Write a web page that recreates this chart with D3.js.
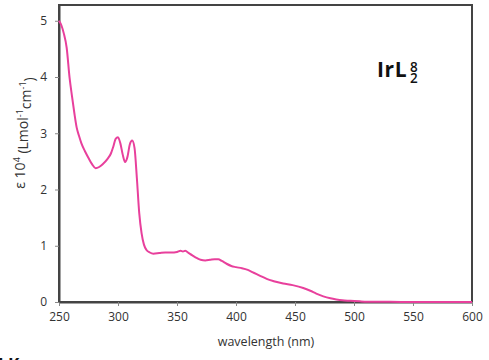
<!DOCTYPE html>
<html>
<head>
<meta charset="utf-8">
<script src="https://cdn.jsdelivr.net/npm/d3@7"></script>
<style>
  html, body { margin: 0; padding: 0; background: #fff; }
  svg { display: block; }
  text { font-family: "Open Sans", "DejaVu Sans", sans-serif; }
</style>
</head>
<body>
<svg id="chart" width="489" height="360"></svg>
<script>
// Absorption spectrum of IrL8_2: wavelength (nm) vs ε (10^4 L mol^-1 cm^-1)
const wavelength = [250, 252, 254, 256.5, 259, 261, 263, 265, 267, 269, 272, 275, 278, 281, 284, 287, 291, 294, 296, 298, 300, 302, 304, 306, 308, 310, 312, 314, 316, 318, 320, 322, 324, 327, 330, 335, 340, 345, 350, 353, 355, 357, 360, 363, 367, 370, 374, 378, 382, 385, 388, 392, 396, 400, 405, 410, 415, 420, 426, 432, 440, 448, 457, 463, 468, 474, 480, 485, 490, 497, 505, 511, 520, 540, 560, 580, 600];
const epsilon    = [5.00, 4.92, 4.78, 4.52, 3.98, 3.66, 3.36, 3.10, 2.95, 2.82, 2.68, 2.56, 2.45, 2.38, 2.40, 2.45, 2.54, 2.64, 2.76, 2.90, 2.93, 2.82, 2.62, 2.49, 2.58, 2.80, 2.87, 2.74, 2.20, 1.58, 1.22, 1.02, 0.93, 0.88, 0.86, 0.87, 0.88, 0.88, 0.89, 0.91, 0.90, 0.91, 0.87, 0.83, 0.78, 0.75, 0.74, 0.75, 0.76, 0.76, 0.73, 0.68, 0.64, 0.62, 0.60, 0.57, 0.52, 0.47, 0.41, 0.37, 0.33, 0.30, 0.25, 0.20, 0.15, 0.10, 0.065, 0.045, 0.03, 0.022, 0.012, 0.006, 0.003, 0.002, 0.002, 0.002, 0.002];

const xTicks = [250, 300, 350, 400, 450, 500, 550, 600];
const yTicks = [0, 1, 2, 3, 4, 5];

const svg = d3.select("#chart");
const margin = { left: 59, right: 17, top: 5, bottom: 58 };
const W = 489, H = 360;

const x = d3.scaleLinear().domain([250, 600]).range([margin.left, W - margin.right]);
const y = d3.scaleLinear().domain([0, 5.28]).range([H - margin.bottom, margin.top]);

// Plot frame
svg.append("rect")
  .attr("x", x(250)).attr("y", y(5.28))
  .attr("width", x(600) - x(250)).attr("height", y(0) - y(5.28))
  .attr("fill", "none").attr("stroke", "#444").attr("stroke-width", 2);

// Axes
const xAxis = d3.axisBottom(x).tickValues(xTicks).tickSize(4).tickSizeOuter(0).tickFormat(d3.format("d"));
const gx = svg.append("g").attr("transform", `translate(0,${y(0)})`).call(xAxis);
gx.select(".domain").attr("stroke", "#444").attr("stroke-width", 2);
gx.selectAll(".tick line").attr("stroke", "#888");
gx.selectAll(".tick text").attr("font-size", 12).attr("fill", "#333").attr("dy", "1.0em");

const yAxis = d3.axisLeft(y).tickValues(yTicks).tickSize(4).tickSizeOuter(0).tickFormat(d3.format("d"));
const gy = svg.append("g").attr("transform", `translate(${x(250)},0)`).call(yAxis);
gy.select(".domain").attr("stroke", "#444").attr("stroke-width", 2);
gy.selectAll(".tick line").attr("stroke", "#888");
gy.selectAll(".tick text").attr("font-size", 12).attr("fill", "#333").attr("dx", "-0.4em");

// Axis titles
svg.append("text")
  .attr("x", 266).attr("y", 346)
  .attr("text-anchor", "middle").attr("font-size", 12.5).attr("fill", "#333")
  .text("wavelength (nm)");

const yl = svg.append("text")
  .attr("transform", `translate(25,133) rotate(-90)`)
  .attr("text-anchor", "middle").attr("font-size", 14).attr("fill", "#333");
yl.append("tspan").text("ε 10");
yl.append("tspan").attr("font-size", 9).attr("dy", "-0.6em").text("4");
yl.append("tspan").attr("dy", "0.6em").text(" (Lmol");
yl.append("tspan").attr("font-size", 9).attr("dy", "-0.6em").text("-1");
yl.append("tspan").attr("dy", "0.6em").text("cm");
yl.append("tspan").attr("font-size", 9).attr("dy", "-0.6em").text("-1");
yl.append("tspan").attr("dy", "0.6em").text(")");

// Compound label: superscript and subscript stacked after "IrL"
const lbl = svg.append("text")
  .attr("x", 377).attr("y", 77)
  .attr("font-size", 21).attr("font-weight", "bold").attr("fill", "#111")
  .attr("letter-spacing", 0.6);
lbl.append("tspan").text("IrL");
lbl.append("tspan").attr("x", 410).attr("y", 71.5)
  .attr("font-size", 13.5).attr("font-weight", 600).attr("letter-spacing", 0).text("8");
lbl.append("tspan").attr("x", 410).attr("y", 83)
  .attr("font-size", 13.5).attr("font-weight", 600).attr("letter-spacing", 0).text("2");

// Spectrum
const data = wavelength.map((w, i) => [w, epsilon[i]]);
svg.append("path")
  .datum(data)
  .attr("fill", "none")
  .attr("stroke", "#e8409c")
  .attr("stroke-width", 2)
  .attr("stroke-linejoin", "round")
  .attr("d", d3.line().x(d => x(d[0])).y(d => y(d[1])).curve(d3.curveMonotoneX));

// Caption fragment at the lower edge
svg.append("text")
  .attr("x", -2).attr("y", 371)
  .attr("font-size", 17).attr("font-weight", "bold").attr("fill", "#111")
  .text("I K");
</script>
</body>
</html>
